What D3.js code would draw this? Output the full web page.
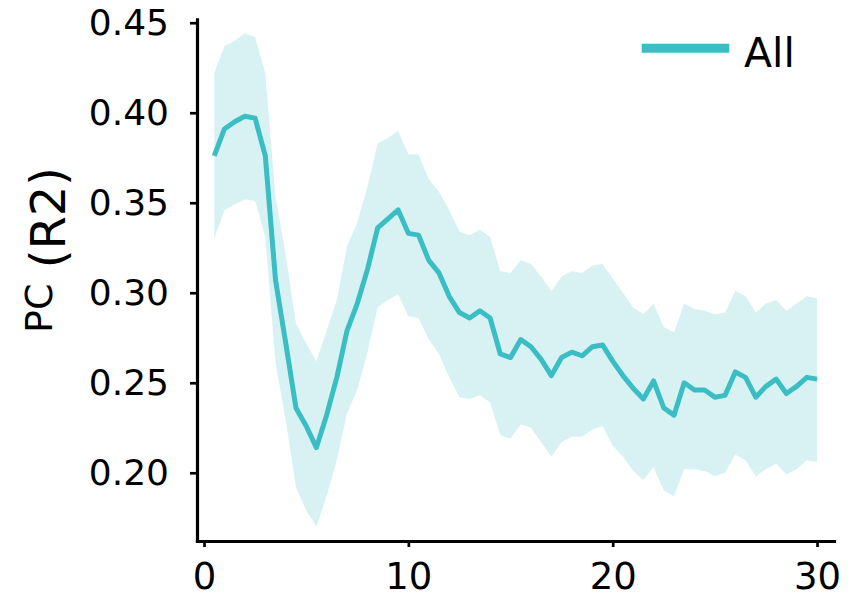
<!DOCTYPE html>
<html>
<head>
<meta charset="utf-8">
<script src="https://cdn.jsdelivr.net/npm/d3@7"></script>
<style>
  html, body { margin: 0; padding: 0; background: #fff; }
  svg { display: block; font-family: "DejaVu Sans", sans-serif; }
</style>
</head>
<body>
<script>
// Time points (x values)
const timePoints = [0.5, 1.0, 1.5, 2.0, 2.5, 3.0, 3.5, 4.0, 4.5, 5.0,
  5.5, 6.0, 6.5, 7.0, 7.5, 8.0, 8.5, 9.0, 9.5, 10.0,
  10.5, 11.0, 11.5, 12.0, 12.5, 13.0, 13.5, 14.0, 14.5, 15.0,
  15.5, 16.0, 16.5, 17.0, 17.5, 18.0, 18.5, 19.0, 19.5, 20.0,
  20.5, 21.0, 21.5, 22.0, 22.5, 23.0, 23.5, 24.0, 24.5, 25.0,
  25.5, 26.0, 26.5, 27.0, 27.5, 28.0, 28.5, 29.0, 29.5, 30.0];

// Mean PC (R2) for "All"
const meanAll = [0.376, 0.391, 0.395, 0.398, 0.397, 0.376, 0.307, 0.272, 0.236, 0.226,
  0.214, 0.232, 0.253, 0.279, 0.294, 0.313, 0.336, 0.341, 0.346, 0.333,
  0.332, 0.318, 0.311, 0.298, 0.289, 0.286, 0.290, 0.286, 0.266, 0.264,
  0.274, 0.270, 0.263, 0.254, 0.264, 0.267, 0.265, 0.270, 0.271, 0.262,
  0.254, 0.247, 0.241, 0.251, 0.236, 0.232, 0.250, 0.246, 0.246, 0.242,
  0.243, 0.256, 0.253, 0.242, 0.248, 0.252, 0.244, 0.248, 0.253, 0.252];

// Upper edge of the shaded band
const upperAll = [0.422, 0.437, 0.440, 0.444, 0.442, 0.422, 0.353, 0.321, 0.283, 0.272,
  0.262, 0.279, 0.296, 0.326, 0.339, 0.359, 0.383, 0.386, 0.390, 0.377,
  0.377, 0.363, 0.356, 0.346, 0.334, 0.332, 0.335, 0.331, 0.312, 0.311,
  0.318, 0.316, 0.309, 0.301, 0.309, 0.312, 0.311, 0.315, 0.316, 0.308,
  0.300, 0.292, 0.288, 0.294, 0.281, 0.278, 0.294, 0.291, 0.290, 0.288,
  0.289, 0.301, 0.298, 0.289, 0.294, 0.296, 0.290, 0.294, 0.298, 0.297];

// Lower edge of the shaded band
const lowerAll = [0.330, 0.346, 0.349, 0.352, 0.351, 0.331, 0.261, 0.229, 0.192, 0.179,
  0.170, 0.187, 0.207, 0.233, 0.246, 0.267, 0.292, 0.296, 0.299, 0.287,
  0.286, 0.274, 0.266, 0.253, 0.242, 0.241, 0.243, 0.239, 0.221, 0.219,
  0.227, 0.225, 0.217, 0.209, 0.217, 0.220, 0.220, 0.224, 0.226, 0.215,
  0.209, 0.201, 0.196, 0.203, 0.190, 0.187, 0.202, 0.202, 0.201, 0.198,
  0.200, 0.210, 0.207, 0.198, 0.202, 0.205, 0.199, 0.202, 0.207, 0.206];

const xTicks = [0, 10, 20, 30];
const yTicks = [0.20, 0.25, 0.30, 0.35, 0.40, 0.45];
const seriesName = "All";

const color = "#3bbdc4";

const svg = d3.select("body").append("svg")
  .attr("width", 866)
  .attr("height", 597);

const x = d3.scaleLinear().domain([-0.343, 30.83]).range([197, 834]);
const y = d3.scaleLinear().domain([0.1621, 0.4519]).range([541, 19.3]);

const data = timePoints.map((t, i) => ({ t, m: meanAll[i], lo: lowerAll[i], hi: upperAll[i] }));

// shaded band
svg.append("path")
  .datum(data)
  .attr("fill", color)
  .attr("fill-opacity", 0.2)
  .attr("d", d3.area().x(d => x(d.t)).y0(d => y(d.lo)).y1(d => y(d.hi)));

// mean line
svg.append("path")
  .datum(data)
  .attr("fill", "none")
  .attr("stroke", color)
  .attr("stroke-width", 5)
  .attr("stroke-linejoin", "round")
  .attr("d", d3.line().x(d => x(d.t)).y(d => y(d.m)));

// axes
const yAxis = svg.append("g")
  .attr("transform", "translate(197,0)")
  .call(d3.axisLeft(y).tickValues(yTicks).tickFormat(d3.format(".2f"))
    .tickSizeInner(7).tickSizeOuter(0).tickPadding(21));

const xAxis = svg.append("g")
  .attr("transform", "translate(0,541)")
  .call(d3.axisBottom(x).tickValues(xTicks).tickFormat(d3.format("d"))
    .tickSizeInner(6).tickSizeOuter(0).tickPadding(16));

[yAxis, xAxis].forEach(g => {
  g.select(".domain").attr("stroke", "#000").attr("stroke-width", 3.2).attr("stroke-linecap", "square");
  g.selectAll(".tick line").attr("stroke", "#000").attr("stroke-width", 2.7);
  g.selectAll(".tick text").attr("fill", "#000").attr("font-family", "DejaVu Sans");
});
yAxis.selectAll(".tick text").attr("font-size", 36);
xAxis.selectAll(".tick text").attr("font-size", 37);

// y axis label
const ylab = svg.append("text")
  .attr("transform", "translate(51.7,333) rotate(-90)")
  .attr("fill", "#000");
ylab.append("tspan").attr("font-size", 38).text("PC");
ylab.append("tspan").attr("font-size", 48).attr("dy", 13).text(" (R2)");

// legend
svg.append("line")
  .attr("x1", 641.7).attr("x2", 729.3)
  .attr("y1", 48.3).attr("y2", 48.3)
  .attr("stroke", color)
  .attr("stroke-width", 9);
svg.append("text")
  .attr("x", 744)
  .attr("y", 66.7)
  .attr("font-size", 41)
  .attr("fill", "#000")
  .text(seriesName);
</script>
</body>
</html>
